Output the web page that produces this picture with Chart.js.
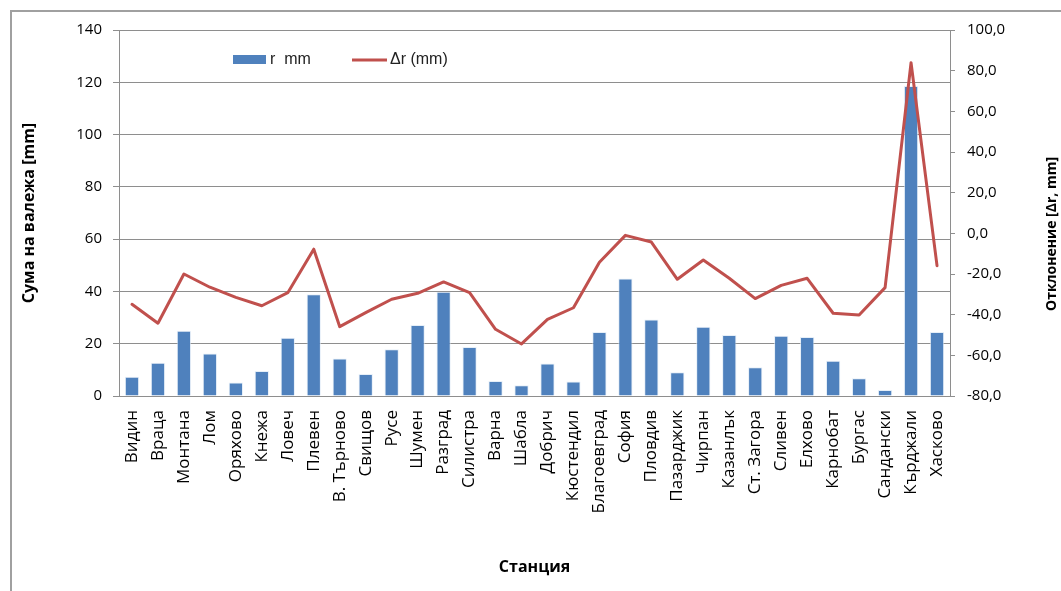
<!DOCTYPE html>
<html>
<head>
<meta charset="utf-8">
<script src="https://cdn.jsdelivr.net/npm/chart.js@4/dist/chart.umd.min.js"></script>
<style>
  html, body { margin: 0; padding: 0; background: #fff; }
  #wrap { position: relative; width: 1061px; height: 591px; overflow: hidden; }
  #frame { position: absolute; left: 10px; top: 10px; width: 1100px; height: 640px;
           border-left: 2px solid #a0a0a0; border-top: 2px solid #a0a0a0; box-sizing: border-box; }
  canvas { position: absolute; left: 0; top: 0; }
</style>
</head>
<body>
<div id="wrap">
  <div id="frame"></div>
  <canvas id="c" width="1061" height="591"></canvas>
</div>
<script>
// Stations
const stations = ['Видин','Враца','Монтана','Лом','Оряхово','Кнежа','Ловеч','Плевен','В. Търново','Свищов',
  'Русе','Шумен','Разград','Силистра','Варна','Шабла','Добрич','Кюстендил','Благоевград','София',
  'Пловдив','Пазарджик','Чирпан','Казанлък','Ст. Загора','Сливен','Елхово','Карнобат','Бургас','Сандански',
  'Кърджали','Хасково'];

// Precipitation sum, mm
const rainSum = [7.4, 12.7, 25.0, 16.3, 5.2, 9.6, 22.3, 38.9, 14.3, 8.4,
  17.9, 27.2, 39.9, 18.7, 5.7, 4.1, 12.4, 5.5, 24.5, 44.9,
  29.3, 9.1, 26.5, 23.3, 11.0, 23.0, 22.6, 13.5, 6.8, 2.3,
  118.6, 24.5];

// Deviation Δr, mm
const rainDev = [-34.9, -44.2, -20.0, -26.5, -31.5, -35.6, -29.2, -7.8, -45.9, -39.0,
  -32.4, -29.5, -23.9, -29.2, -47.2, -54.4, -42.3, -36.6, -14.2, -1.0,
  -4.3, -22.6, -13.1, -22.1, -32.1, -25.6, -22.1, -39.3, -40.2, -26.7,
  83.9, -15.9];

const seriesNames = ['r  mm', 'Δr (mm)'];
const leftTitle = 'Сума на валежа [mm]';
const rightTitle = 'Отклонение [Δr, mm]';
const bottomTitle = 'Станция';

const BLUE = '#4f81bd';
const RED = '#c0504d';
const GRID = '#8e8e8e';
const tickFont = { family: '"Open Sans", sans-serif', size: 15 };

// Legend drawn inside the plot area, near its top
const insideLegend = {
  id: 'insideLegend',
  afterDraw(chart) {
    const { ctx, chartArea } = chart;
    const bars = chart.data.datasets.find(d => d.type === 'bar');
    const line = chart.data.datasets.find(d => d.type === 'line');
    const x0 = chartArea.left + 114;
    const y = chartArea.top + 29;
    ctx.save();
    ctx.font = '16px "Liberation Sans", Arial, sans-serif';
    ctx.textBaseline = 'middle';
    ctx.fillStyle = bars.backgroundColor;
    ctx.fillRect(x0, y - 4, 33, 9);
    ctx.fillStyle = '#222';
    ctx.fillText(bars.label, x0 + 37, y + 1);
    ctx.strokeStyle = line.borderColor;
    ctx.lineWidth = 3;
    ctx.beginPath();
    ctx.moveTo(x0 + 119, y + 1);
    ctx.lineTo(x0 + 154, y + 1);
    ctx.stroke();
    ctx.fillText(line.label, x0 + 157, y + 1);
    ctx.restore();
  }
};

// Right axis title reads bottom-to-top
const rightAxisTitle = {
  id: 'rightAxisTitle',
  afterDraw(chart) {
    const { ctx } = chart;
    ctx.save();
    ctx.translate(1052, 234);
    ctx.rotate(-Math.PI / 2);
    ctx.font = 'bold 14px "Open Sans", sans-serif';
    ctx.fillStyle = '#000';
    ctx.textAlign = 'center';
    ctx.textBaseline = 'middle';
    ctx.fillText(rightTitle, 0, 0);
    ctx.restore();
  }
};

new Chart(document.getElementById('c'), {
  data: {
    labels: stations,
    datasets: [
      {
        type: 'line',
        label: seriesNames[1],
        data: rainDev,
        yAxisID: 'y1',
        borderColor: RED,
        backgroundColor: RED,
        borderWidth: 3,
        borderJoinStyle: 'round',
        borderCapStyle: 'round',
        pointRadius: 0,
        tension: 0,
        order: 0
      },
      {
        type: 'bar',
        label: seriesNames[0],
        data: rainSum,
        yAxisID: 'y',
        backgroundColor: BLUE,
        borderColor: 'rgba(220,232,245,0.7)',
        borderWidth: { top: 1, left: 1, right: 1, bottom: 0 },
        categoryPercentage: 0.55,
        barPercentage: 1,
        order: 1
      }
    ]
  },
  options: {
    responsive: false,
    animation: false,
    devicePixelRatio: 1,
    layout: { padding: { top: 30, right: 0, bottom: 0, left: 0 } },
    plugins: {
      legend: { display: false },
      tooltip: { enabled: false }
    },
    scales: {
      x: {
        grid: { display: false },
        border: { display: true, color: GRID, width: 1 },
        ticks: {
          color: '#000', font: { family: '"Open Sans", sans-serif', size: 17 },
          minRotation: 90, maxRotation: 90, autoSkip: false, padding: 6
        },
        title: {
          display: true, text: bottomTitle, color: '#000',
          font: { family: '"Open Sans", sans-serif', size: 16, weight: 'bold' },
          padding: { top: 0, bottom: 14 }
        },
        afterFit(s) { s.height = 195; }
      },
      y: {
        position: 'left',
        min: 0, max: 140,
        grid: { color: GRID, lineWidth: 1, tickLength: 6 },
        border: { display: true, color: GRID, width: 1 },
        ticks: { stepSize: 20, color: '#000', font: tickFont, padding: 11 },
        title: {
          display: true, text: leftTitle, color: '#000',
          font: { family: '"Open Sans", sans-serif', size: 16, weight: 'bold' },
          padding: { top: 20, bottom: 0 }
        },
        afterFit(s) { s.width = 119; }
      },
      y1: {
        position: 'right',
        min: -80, max: 100,
        grid: { drawOnChartArea: false, color: GRID, tickLength: 5 },
        border: { display: true, color: GRID, width: 1 },
        ticks: {
          stepSize: 20, color: '#000', font: tickFont, padding: 12,
          callback: v => v.toFixed(1).replace('.', ',')
        },
        afterFit(s) { s.width = 111; }
      }
    }
  },
  plugins: [insideLegend, rightAxisTitle]
});
</script>
</body>
</html>
